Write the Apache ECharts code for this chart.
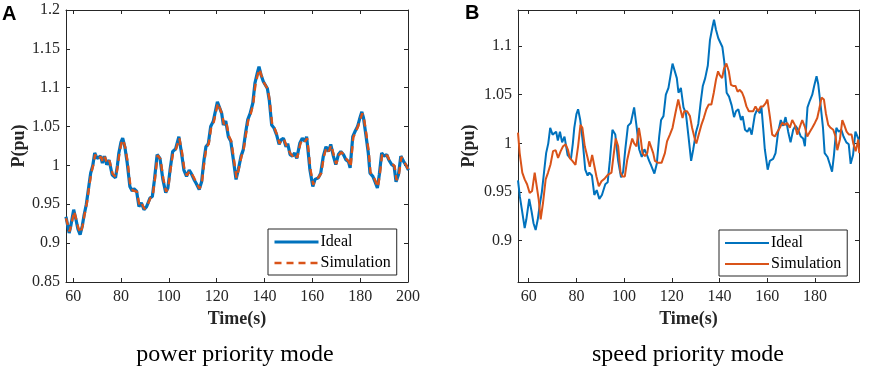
<!DOCTYPE html>
<html>
<head>
<meta charset="utf-8">
<script src="https://cdn.jsdelivr.net/npm/echarts@6/dist/echarts.min.js"></script>
<style>
  html, body { margin: 0; padding: 0; background: #fff; }
  #chart { width: 872px; height: 373px; }
</style>
</head>
<body>
<div id="chart"></div>
<script>
// [time (s), P (pu)]
const idealPts = [
  [55.5, 0.962], [56.3, 0.945], [57, 0.934], [58.3, 0.913], [59, 0.922], [60.2, 0.943],
  [61.2, 0.930], [62, 0.918], [62.9, 0.911], [63.8, 0.922], [64.5, 0.935], [65.5, 0.950],
  [66.4, 0.970], [67.3, 0.990], [68.2, 1.000], [69, 1.016], [70, 1.009], [70.8, 1.010],
  [71.5, 1.012], [72.2, 1.003], [73.1, 1.012], [74, 1.001], [75, 1.007], [76.3, 0.988],
  [77.7, 0.984], [78.5, 1.000], [79.1, 1.016], [80, 1.030], [80.7, 1.035], [81.6, 1.024],
  [82.6, 1.003], [83.7, 0.973], [84.7, 0.967], [85.4, 0.970], [86.5, 0.967], [87.5, 0.947],
  [88.5, 0.952], [89.6, 0.943], [90.7, 0.947], [92.1, 0.958], [93.1, 0.960], [94, 0.982],
  [95.1, 1.014], [96.3, 1.009], [97.5, 0.982], [98.7, 0.965], [99.6, 0.971], [100.5, 0.994],
  [101.6, 1.018], [102.8, 1.021], [104.2, 1.037], [105.3, 1.016], [106.3, 0.994], [107.4, 0.986],
  [108.5, 0.994], [109.3, 0.990], [110.5, 0.982], [111.4, 0.977], [112.7, 0.969], [113.7, 0.979],
  [114.7, 1.007], [115.5, 1.024], [116.5, 1.028], [117.5, 1.050], [118.6, 1.057], [119.3, 1.055],
  [120.3, 1.082], [121.1, 1.083], [122.1, 1.067], [122.8, 1.052], [123.8, 1.057], [124.9, 1.037],
  [125.9, 1.031], [127, 1.007], [128.1, 0.982], [129, 0.994], [130.2, 1.012], [131.1, 1.020],
  [132.1, 1.042], [133, 1.059], [134, 1.067], [135.1, 1.080], [136, 1.106], [137, 1.119],
  [137.7, 1.127], [138.5, 1.117], [139.5, 1.108], [140.2, 1.110], [141.2, 1.099], [142, 1.084],
  [143, 1.052], [144, 1.048], [145.1, 1.039], [146.1, 1.027], [146.9, 1.033], [147.9, 1.035],
  [149, 1.024], [149.7, 1.028], [150.7, 1.014], [151.7, 1.012], [152.6, 1.016], [153.5, 1.009],
  [154.8, 1.029], [155.8, 1.035], [156.9, 1.031], [157.6, 1.037], [158.3, 1.016], [159, 0.994],
  [160.2, 0.973], [161.1, 0.982], [162.5, 0.984], [163.5, 0.990], [164.6, 1.012], [165.7, 1.024],
  [166.7, 1.018], [167.7, 1.027], [168.8, 1.012], [169.8, 1.001], [170.9, 1.014], [171.9, 1.018],
  [173, 1.014], [174.1, 1.007], [175.1, 1.005], [175.8, 0.997], [176.9, 1.037], [177.9, 1.044],
  [178.9, 1.050], [179.7, 1.059], [180.7, 1.069], [181.4, 1.061], [182.5, 1.037], [183.4, 1.016],
  [184.1, 0.990], [185.3, 0.986], [186.2, 0.979], [187.2, 0.971], [188, 0.988], [189, 1.016],
  [190, 1.012], [191.1, 1.014], [192, 1.007], [193.2, 1.001], [194.2, 0.999], [195, 0.979],
  [196, 0.988], [197, 1.012], [198.2, 1.005], [199.4, 0.999], [200.2, 0.994]
]

// panel A: simulation sits right on top of the ideal curve
const simAPts = [
  [57, 0.932], [58.5, 0.915], [59.2, 0.923], [60.4, 0.941], [61.4, 0.929], [62.2, 0.919],
  [63.1, 0.913], [64, 0.923], [64.7, 0.936], [65.7, 0.951], [66.6, 0.971], [67.5, 0.989],
  [68.4, 1.001], [69.2, 1.014], [70.2, 1.008], [71, 1.010], [71.7, 1.011], [72.4, 1.004],
  [73.3, 1.011], [74.2, 1.002], [75.2, 1.006], [76.5, 0.989], [77.9, 0.985], [78.7, 1.001],
  [79.3, 1.015], [80.2, 1.029], [80.9, 1.033], [81.8, 1.023], [82.8, 1.004], [83.9, 0.974],
  [84.9, 0.968], [85.6, 0.970], [86.7, 0.966], [87.7, 0.948], [88.7, 0.951], [89.8, 0.944],
  [90.9, 0.948], [92.3, 0.958], [93.3, 0.961], [94.2, 0.983], [95.3, 1.013], [96.5, 1.008],
  [97.7, 0.983], [98.9, 0.966], [99.8, 0.972], [100.7, 0.995], [101.8, 1.017], [103, 1.021],
  [104.4, 1.035], [105.5, 1.017], [106.5, 0.995], [107.6, 0.987], [108.7, 0.993], [109.5, 0.990],
  [110.7, 0.983], [111.6, 0.977], [112.9, 0.970], [113.9, 0.980], [114.9, 1.006], [115.7, 1.023],
  [116.7, 1.028], [117.7, 1.049], [118.8, 1.056], [119.5, 1.055], [120.5, 1.080], [121.3, 1.081],
  [122.3, 1.066], [123, 1.053], [124, 1.056], [125.1, 1.038], [126.1, 1.031], [127.2, 1.008],
  [128.3, 0.984], [129.2, 0.995], [130.4, 1.012], [131.3, 1.021], [132.3, 1.041], [133.2, 1.058],
  [134.2, 1.066], [135.3, 1.079], [136.2, 1.104], [137.2, 1.117], [137.9, 1.124], [138.7, 1.116],
  [139.7, 1.107], [140.4, 1.108], [141.4, 1.098], [142.2, 1.083], [143.2, 1.053], [144.2, 1.048],
  [145.3, 1.039], [146.3, 1.028], [147.1, 1.033], [148.1, 1.034], [149.2, 1.025], [149.9, 1.027],
  [150.9, 1.015], [151.9, 1.012], [152.8, 1.015], [153.7, 1.010], [155, 1.028], [156, 1.034],
  [157.1, 1.031], [157.8, 1.035], [158.5, 1.017], [159.2, 0.995], [160.4, 0.975], [161.3, 0.982],
  [162.7, 0.985], [163.7, 0.990], [164.8, 1.011], [165.9, 1.023], [166.9, 1.018], [167.9, 1.026],
  [169, 1.013], [170, 1.002], [171.1, 1.013], [172.1, 1.017], [173.2, 1.014], [174.3, 1.008],
  [175.3, 1.005], [176, 0.998], [177.1, 1.036], [178.1, 1.043], [179.1, 1.050], [179.9, 1.058],
  [180.9, 1.067], [181.6, 1.060], [182.7, 1.038], [183.6, 1.017], [184.3, 0.991], [185.5, 0.986],
  [186.4, 0.980], [187.4, 0.972], [188.2, 0.988], [189.2, 1.015], [190.2, 1.012], [191.3, 1.013],
  [192.2, 1.007], [193.4, 1.002], [194.4, 0.999], [195.2, 0.981], [196.2, 0.988], [197.2, 1.011],
  [198.4, 1.005], [199.6, 0.998], [200.2, 0.993]
]

// panel B: lagging, smoother simulation
const simBPts = [
  [55.5, 1.011], [56.2, 0.990], [57.3, 0.970], [58.3, 0.963], [59.3, 0.958], [60.4, 0.949],
  [61.4, 0.951], [62.5, 0.970], [63.2, 0.968], [64.2, 0.942], [65, 0.922], [66, 0.939],
  [67.1, 0.963], [68.1, 0.970], [69.1, 0.978], [70.2, 0.992], [71.3, 0.993], [72.3, 0.985],
  [73.4, 0.992], [74.4, 0.997], [75.5, 0.999], [76.5, 0.993], [77.2, 0.985], [78.3, 0.982],
  [79.6, 0.978], [80.7, 0.997], [81.7, 1.019], [82.5, 1.016], [83.5, 0.997], [84.5, 0.987],
  [85.6, 0.976], [86.6, 0.988], [87.4, 0.987], [88.4, 0.966], [89.4, 0.956], [90.5, 0.961],
  [91.9, 0.964], [93.3, 0.968], [94.7, 0.970], [95.7, 0.990], [96.5, 1.005], [97.5, 0.997],
  [98.5, 0.970], [99.3, 0.966], [100.3, 0.966], [101.3, 0.983], [102.4, 0.995], [103.4, 1.005],
  [104.2, 1.000], [105.2, 0.997], [106.2, 1.016], [107, 1.004], [107.7, 0.990], [108.7, 0.987],
  [109.7, 0.990], [110.5, 1.002], [111.3, 1.000], [112.2, 0.990], [112.9, 0.982], [114.3, 0.980],
  [115.7, 0.980], [117.1, 0.990], [118, 1.002], [119.2, 1.009], [120.3, 1.016], [121.5, 1.031],
  [122.7, 1.045], [123.6, 1.035], [124.5, 1.026], [125.2, 1.033], [126.4, 1.033], [127.6, 1.028],
  [128.5, 1.016], [129.7, 1.004], [130.3, 1.000], [131.5, 1.011], [132.4, 1.019], [133.4, 1.026],
  [134.5, 1.035], [135.5, 1.040], [136.6, 1.040], [137.6, 1.052], [138.5, 1.065], [139.4, 1.074],
  [140.1, 1.070], [141.1, 1.067], [141.9, 1.077], [142.9, 1.082], [143.9, 1.074], [144.8, 1.060],
  [145.7, 1.059], [146.7, 1.059], [147.6, 1.053], [148.5, 1.055], [149.5, 1.052], [150.3, 1.047],
  [151.3, 1.038], [152.3, 1.033], [153.1, 1.031], [154.1, 1.033], [155.1, 1.038], [156.2, 1.033],
  [157.3, 1.038], [158.3, 1.038], [159.3, 1.041], [160.1, 1.045], [161.1, 1.028], [162.1, 1.009],
  [163.2, 1.007], [164.3, 1.012], [165.3, 1.016], [166.3, 1.021], [167.4, 1.019], [168.4, 1.021],
  [169.5, 1.016], [170.5, 1.024], [171.6, 1.019], [172.6, 1.009], [173.7, 1.017], [174.7, 1.024],
  [175.8, 1.017], [176.8, 1.007], [177.9, 1.012], [178.9, 1.016], [180, 1.021], [181, 1.026],
  [181.8, 1.035], [182.8, 1.047], [183.8, 1.045], [184.6, 1.031], [185.6, 1.019], [186.6, 1.016],
  [187.7, 1.014], [188.7, 1.007], [189.4, 0.993], [190.5, 1.004], [191.5, 1.024], [192.3, 1.019],
  [193.3, 1.012], [194.3, 1.009], [195.4, 1.009], [196.1, 1.000], [197.1, 0.992], [198.2, 1.004],
  [198.6, 0.990]
]

const xTicksA = [60, 80, 100, 120, 140, 160, 180, 200]
const xTicksB = [60, 80, 100, 120, 140, 160, 180]
const yTicksB = [0.9, 0.95, 1, 1.05, 1.1]

const BLUE = '#0072BD'
const ORANGE = '#D95319'
const INK = '#262626'
const SERIF = '"Liberation Serif", "Times New Roman", serif'

const chart = echarts.init(document.getElementById('chart'), null, { renderer: 'canvas' })

const tickLabel = { color: INK, fontFamily: SERIF, fontSize: 16 }
const axisLine = { show: true, onZero: false, lineStyle: { color: INK, width: 1 } }

function xAxes(grid, min, max, ticks) {
  return [
    {
      type: 'value', gridIndex: grid, min, max, position: 'bottom',
      axisLine, splitLine: { show: false },
      axisTick: { inside: true, length: 4, lineStyle: { color: INK }, customValues: ticks },
      axisLabel: { ...tickLabel, margin: 7, customValues: ticks },
      name: 'Time(s)', nameLocation: 'middle', nameGap: 24,
      nameTextStyle: { color: INK, fontFamily: SERIF, fontSize: 18, fontWeight: 'bold' },
    },
    {
      type: 'value', gridIndex: grid, min, max, position: 'top',
      axisLine, splitLine: { show: false },
      axisTick: { inside: true, length: 4, lineStyle: { color: INK }, customValues: ticks },
      axisLabel: { show: false },
    },
  ]
}

function yAxes(grid, min, max, ticks, gap) {
  const t = ticks ? { customValues: ticks } : {}
  return [
    {
      type: 'value', gridIndex: grid, min, max, position: 'left',
      interval: ticks ? undefined : 0.05,
      axisLine, splitLine: { show: false },
      axisTick: { inside: true, length: 4, lineStyle: { color: INK }, ...t },
      axisLabel: { ...tickLabel, margin: 6, ...t },
      name: 'P(pu)', nameLocation: 'middle', nameGap: gap,
      nameTextStyle: { color: INK, fontFamily: SERIF, fontSize: 18, fontWeight: 'bold' },
    },
    {
      type: 'value', gridIndex: grid, min, max, position: 'right',
      interval: ticks ? undefined : 0.05,
      axisLine, splitLine: { show: false },
      axisTick: { inside: true, length: 4, lineStyle: { color: INK }, ...t },
      axisLabel: { show: false },
    },
  ]
}

const legendBase = {
  orient: 'vertical',
  itemWidth: 44, itemHeight: 12, itemGap: 5,
  padding: [5, 6, 4, 5],
  borderColor: INK, borderWidth: 1,
  backgroundColor: '#fff',
  textStyle: { color: '#000', fontFamily: SERIF, fontSize: 16, padding: [0, 0, 0, -3] },
  selectedMode: false,
}
const noMark = { opacity: 0 }

chart.setOption({
  animation: false,
  backgroundColor: '#fff',
  grid: [
    { left: 66, top: 10, width: 342, height: 272 },
    { left: 518, top: 10, width: 341, height: 272 },
  ],
  xAxis: [...xAxes(0, 57, 200, xTicksA), ...xAxes(1, 55.5, 198.5, xTicksB)],
  yAxis: [...yAxes(0, 0.85, 1.2, null, 36), ...yAxes(1, 0.8576, 1.137, yTicksB, 40)],
  legend: [
    {
      ...legendBase, left: 268, top: 229,
      data: [
        { name: 'Ideal', itemStyle: noMark, lineStyle: { color: BLUE, width: 3, type: 'solid' } },
        { name: 'Simulation', itemStyle: noMark, lineStyle: { color: ORANGE, width: 2.5, type: [7, 5] } },
      ],
    },
    {
      ...legendBase, left: 719, top: 230,
      data: [
        { name: 'Ideal', itemStyle: noMark, lineStyle: { color: BLUE, width: 2, type: 'solid' } },
        { name: 'Simulation', itemStyle: noMark, lineStyle: { color: ORANGE, width: 2, type: 'solid' } },
      ],
    },
  ],
  series: [
    {
      name: 'Ideal', type: 'line', xAxisIndex: 0, yAxisIndex: 0,
      data: idealPts.filter(p => p[0] >= 57),
      symbol: 'none', clip: true, lineStyle: { color: BLUE, width: 3.2 }, itemStyle: { color: BLUE },
    },
    {
      name: 'Simulation', type: 'line', xAxisIndex: 0, yAxisIndex: 0, data: simAPts,
      symbol: 'none', clip: true, lineStyle: { color: ORANGE, width: 2.4, type: [7, 5] }, itemStyle: { color: ORANGE },
    },
    {
      name: 'Ideal', type: 'line', xAxisIndex: 2, yAxisIndex: 2, data: idealPts,
      symbol: 'none', clip: true, lineStyle: { color: BLUE, width: 2 }, itemStyle: { color: BLUE },
    },
    {
      name: 'Simulation', type: 'line', xAxisIndex: 2, yAxisIndex: 2, data: simBPts,
      symbol: 'none', clip: true, lineStyle: { color: ORANGE, width: 2 }, itemStyle: { color: ORANGE },
    },
  ],
  graphic: [
    { type: 'text', left: 2, top: 4, style: { text: 'A', font: 'bold 20px "Liberation Sans", Arial, sans-serif', fill: '#000' } },
    { type: 'text', left: 465, top: 3, style: { text: 'B', font: 'bold 20px "Liberation Sans", Arial, sans-serif', fill: '#000' } },
    { type: 'text', x: 235, y: 355, style: { text: 'power priority mode', font: '24px "Liberation Serif", serif', fill: '#000', align: 'center', verticalAlign: 'middle' } },
    { type: 'text', x: 688, y: 355, style: { text: 'speed priority mode', font: '24px "Liberation Serif", serif', fill: '#000', align: 'center', verticalAlign: 'middle' } },
  ],
})
</script>
</body>
</html>
